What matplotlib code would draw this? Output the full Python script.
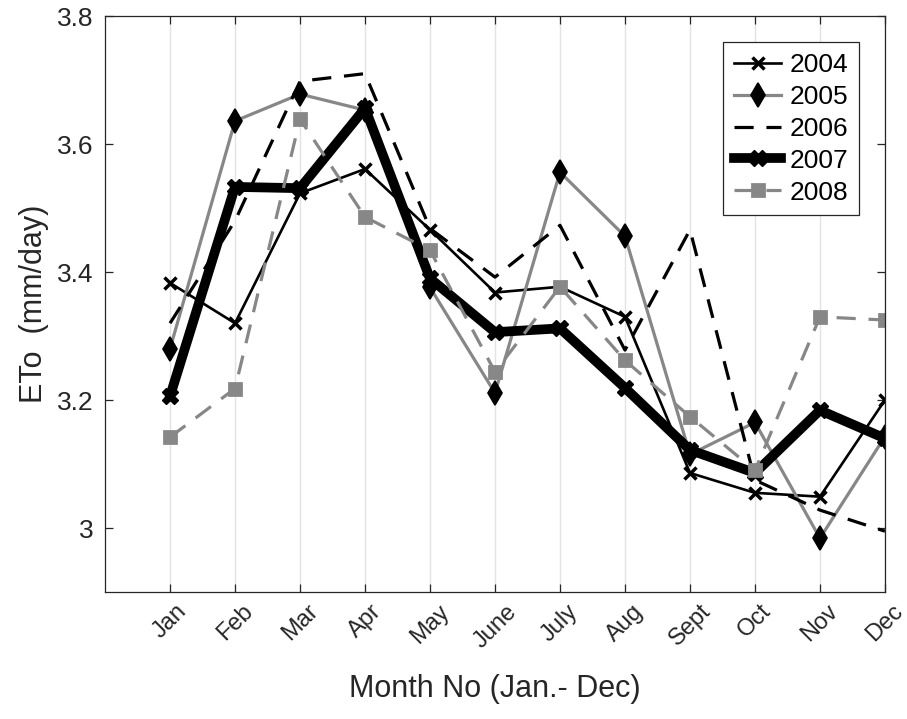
import matplotlib.pyplot as plt
from matplotlib.ticker import FormatStrFormatter

plt.rcParams['font.family'] = ['Liberation Sans', 'DejaVu Sans']

months = ["Jan", "Feb", "Mar", "Apr", "May", "June",
          "July", "Aug", "Sept", "Oct", "Nov", "Dec"]
month_no = list(range(1, 13))

# monthly mean ETo (mm/day) per year
eto_2004 = [3.383, 3.320, 3.523, 3.561, 3.466, 3.368, 3.377, 3.330, 3.086, 3.055, 3.049, 3.200]
eto_2005 = [3.280, 3.636, 3.678, 3.653, 3.376, 3.211, 3.556, 3.456, 3.115, 3.165, 2.984, 3.143]
eto_2006 = [3.320, 3.480, 3.698, 3.710, 3.468, 3.392, 3.473, 3.278, 3.466, 3.075, 3.028, 2.995]
eto_2007 = [3.206, 3.533, 3.531, 3.656, 3.390, 3.306, 3.312, 3.219, 3.122, 3.086, 3.184, 3.140]
eto_2008 = [3.142, 3.218, 3.639, 3.486, 3.434, 3.244, 3.377, 3.262, 3.174, 3.090, 3.330, 3.325]

gray = "#878787"
dark = "#262626"

fig = plt.figure(figsize=(9.07, 7.19), dpi=100)
ax = fig.add_axes([0.1158, 0.1766, 0.8599, 0.8011])

ax.plot(month_no, eto_2004, color="black", lw=1.9, marker="x", ms=9, mew=2.5, label="2004")
ax.plot(month_no, eto_2005, color=gray, lw=2.3, marker="d", ms=12, mfc="black", mec="black",
        mew=1.2, label="2005")
ax.plot(month_no, eto_2006, color="black", lw=2.3, ls=(0, (6, 4)), label="2006")
ax.plot(month_no, eto_2007, color="black", lw=7, marker="X", ms=11, label="2007")
ax.plot(month_no, eto_2008, color=gray, lw=2.3, ls=(0, (6, 4)), marker="s", ms=9,
        mew=2, mec=gray, label="2008")

ax.set_xlim(0, 12)
ax.set_ylim(2.9, 3.8)
ax.set_xticks(month_no)
ax.set_xticklabels(months, rotation=45, ha="center", va="top")
ax.set_yticks([3.0, 3.2, 3.4, 3.6, 3.8])
ax.yaxis.set_major_formatter(FormatStrFormatter("%g"))

ax.grid(axis="x", color="#e3e3e3", lw=1)
ax.set_axisbelow(True)
ax.tick_params(direction="in", length=6, width=0.9, top=True, right=True,
               labelsize=19, colors=dark, pad=8)
ax.tick_params(axis="x", pad=6, labelsize=17)
for sp in ax.spines.values():
    sp.set_color(dark)
    sp.set_linewidth(0.9)

ax.set_xlabel("Month No (Jan.- Dec)", fontsize=22, color=dark, labelpad=16)
ax.set_ylabel("ETo  (mm/day)", fontsize=22, color=dark, labelpad=6)

leg = ax.legend(loc="upper right", fontsize=19, fancybox=False, framealpha=1,
                edgecolor=dark, handlelength=1.8, labelspacing=0.3,
                borderaxespad=1.0, handletextpad=0.3, borderpad=0.4)
leg.get_frame().set_linewidth(0.9)

fig.savefig("out.png", dpi=100)
